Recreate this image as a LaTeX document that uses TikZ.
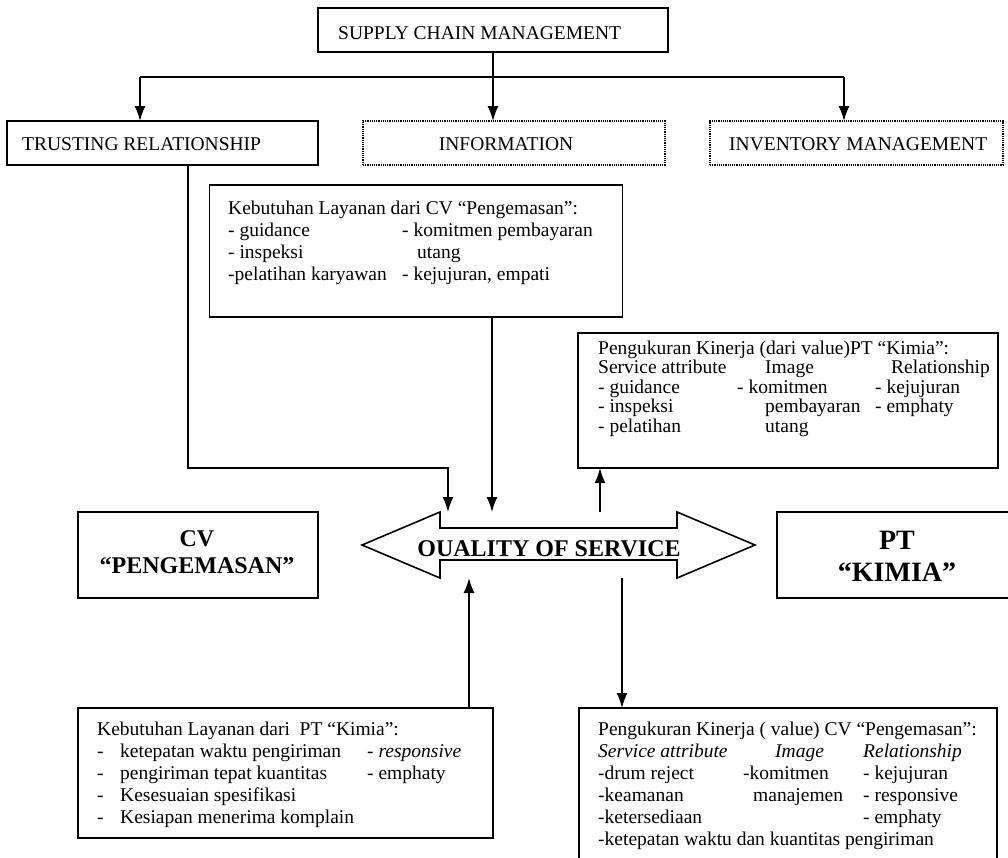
\documentclass[tikz,border=0pt]{standalone}
\usepackage{fontspec}
\setmainfont{Liberation Serif}
\usetikzlibrary{arrows.meta,calc}
\tikzset{
  box/.style={draw, line width=1.6pt, inner sep=0pt, outer sep=0pt},
  dotbox/.style={draw, densely dotted, line width=1.2pt, inner sep=0pt, outer sep=0pt},
  ln/.style={line width=1.6pt},
  arr/.style={line width=1.6pt, -{Latex[length=15pt,width=11pt]}},
  txt/.style={inner sep=0pt, anchor=base west, font=\fontsize{19.5}{22}\selectfont},
  txtc/.style={inner sep=0pt, anchor=base, font=\fontsize{19.5}{22}\selectfont},
  tight/.style={font=\fontsize{19.5}{19.5}\selectfont},
  big/.style={inner sep=0pt, anchor=base, font=\bfseries\fontsize{24}{27}\selectfont},
  bigger/.style={inner sep=0pt, anchor=base, font=\bfseries\fontsize{28}{32}\selectfont},
}
\begin{document}
\begin{tikzpicture}[x=1pt,y=-1pt]
\useasboundingbox (0,0) rectangle (1008,857);
\clip (0,0) rectangle (1008,857);

% boxes
\node[box, minimum width=350pt, minimum height=44pt] (scm) at (493,30) {};
\node[box, minimum width=311pt, minimum height=44pt] (trust) at (162.5,143) {};
\node[dotbox, minimum width=302pt, minimum height=44pt] (info) at (514,143) {};
\node[dotbox, minimum width=293pt, minimum height=44pt] (inv) at (856.5,143) {};
\node[box, minimum width=413pt, minimum height=132pt] (kebcv) at (416,251) {};
\node[box, minimum width=420pt, minimum height=135pt] (pk) at (788,400.5) {};
\node[box, minimum width=240pt, minimum height=86pt] (cv) at (198,555) {};
\node[box, minimum width=238pt, minimum height=86pt] (pt) at (896,555) {};
\node[box, minimum width=415pt, minimum height=130pt] (kebpt) at (285.5,773) {};
\node[box, minimum width=418pt, minimum height=157pt] (pkcv) at (788,786.5) {};

% double arrow
\draw[line width=1.6pt, line join=miter] (362,545) -- (440,512) -- (440,528) -- (677,528) -- (677,512)
  -- (755,545) -- (677,578) -- (677,560) -- (440,560) -- (440,578) -- cycle;
\node[inner sep=0pt, outer sep=0pt, minimum width=393pt, minimum height=66pt] (qos) at (558.5,545) {};
\node[big] (qost) at (549,556) {OUALITY OF SERVICE};

% texts
\node[txt] (scmt) at (338,39) {SUPPLY CHAIN MANAGEMENT};
\node[txt] (trustt) at (22,150) {TRUSTING RELATIONSHIP};
\node[txtc] (infot) at (506,150) {INFORMATION};
\node[txt] (invt) at (729,150) {INVENTORY MANAGEMENT};

\node[txt] (kebcv1) at (228,214) {\begin{tabular}[t]{@{}l@{}}Kebutuhan Layanan dari CV “Pengemasan”:\\- guidance\\- inspeksi\\-pelatihan karyawan\end{tabular}};
\node[txt] (kebcv2) at (402,214) {\begin{tabular}[t]{@{}l@{}}\\- komitmen pembayaran\\\hspace{15pt}utang\\- kejujuran, empati\end{tabular}};

\node[txt,tight] (pk1) at (598,354) {\begin{tabular}[t]{@{}l@{}}Pengukuran Kinerja (dari value)PT “Kimia”:\\Service attribute\\- guidance\\- inspeksi\\- pelatihan\end{tabular}};
\node[txt,tight] (pk2) at (737,354) {\begin{tabular}[t]{@{}l@{}}\\\hspace{28pt}Image\\- komitmen\\\hspace{28pt}pembayaran\\\hspace{28pt}utang\end{tabular}};
\node[txt,tight] (pk3) at (875,354) {\begin{tabular}[t]{@{}l@{}}\\\hspace{16pt}Relationship\\- kejujuran\\- emphaty\end{tabular}};

\node[big] (cvt) at (197,546) {\begin{tabular}[t]{@{}c@{}}CV\\“PENGEMASAN”\end{tabular}};
\node[bigger] (ptt) at (897,549) {\begin{tabular}[t]{@{}c@{}}PT\\“KIMIA”\end{tabular}};

\node[txt] (kebpt1) at (97,735) {\begin{tabular}[t]{@{}l@{}}Kebutuhan Layanan dari\ \ PT “Kimia”:\\-\\-\\-\\-\end{tabular}};
\node[txt] (kebpt2) at (120,735) {\begin{tabular}[t]{@{}l@{}}\\ketepatan waktu pengiriman\\pengiriman tepat kuantitas\\Kesesuaian spesifikasi\\Kesiapan menerima komplain\end{tabular}};
\node[txt] (kebpt3) at (367,735) {\begin{tabular}[t]{@{}l@{}}\\- \textit{responsive}\\- emphaty\end{tabular}};

\node[txt] (pkcv1) at (598,735) {\begin{tabular}[t]{@{}l@{}}Pengukuran Kinerja ( value) CV “Pengemasan”:\\\textit{Service attribute}\\-drum reject\\-keamanan\\-ketersediaan\\-ketepatan waktu dan kuantitas pengiriman\end{tabular}};
\node[txt] (pkcv2) at (743,735) {\begin{tabular}[t]{@{}l@{}}\\\hspace{32pt}\textit{Image}\\-komitmen\\\hspace{10pt}manajemen\end{tabular}};
\node[txt] (pkcv3) at (863,735) {\begin{tabular}[t]{@{}l@{}}\\\textit{Relationship}\\- kejujuran\\- responsive\\- emphaty\end{tabular}};

% connector coordinates
\coordinate (bus) at (0,77);
\coordinate (xtr) at (140,0);
\coordinate (xiv) at (844,0);
\coordinate (xtl) at (188,0);
\coordinate (hline) at (448,468);
\coordinate (xin) at (492,0);
\coordinate (xpk) at (600,0);
\coordinate (xb1) at (469,0);
\coordinate (xb2) at (622,0);

% connectors
\draw[ln] (scm.south) -- (scm.south |- bus);
\draw[ln] (xtr |- bus) -- (xiv |- bus);
\draw[arr] (xtr |- bus) -- (trust.north -| xtr);
\draw[arr] (scm.south |- bus) -- (info.north -| scm.south);
\draw[arr] (xiv |- bus) -- (inv.north -| xiv);
\draw[arr] (trust.south -| xtl) |- (hline) -- (qos.north -| hline);
\draw[arr] (kebcv.south -| xin) -- (qos.north -| xin);
\draw[arr] (qos.north -| xpk) -- (pk.south -| xpk);
\draw[arr] (kebpt.north -| xb1) -- (qos.south -| xb1);
\draw[arr] (qos.south -| xb2) -- (pkcv.north -| xb2);
\end{tikzpicture}
\end{document}
